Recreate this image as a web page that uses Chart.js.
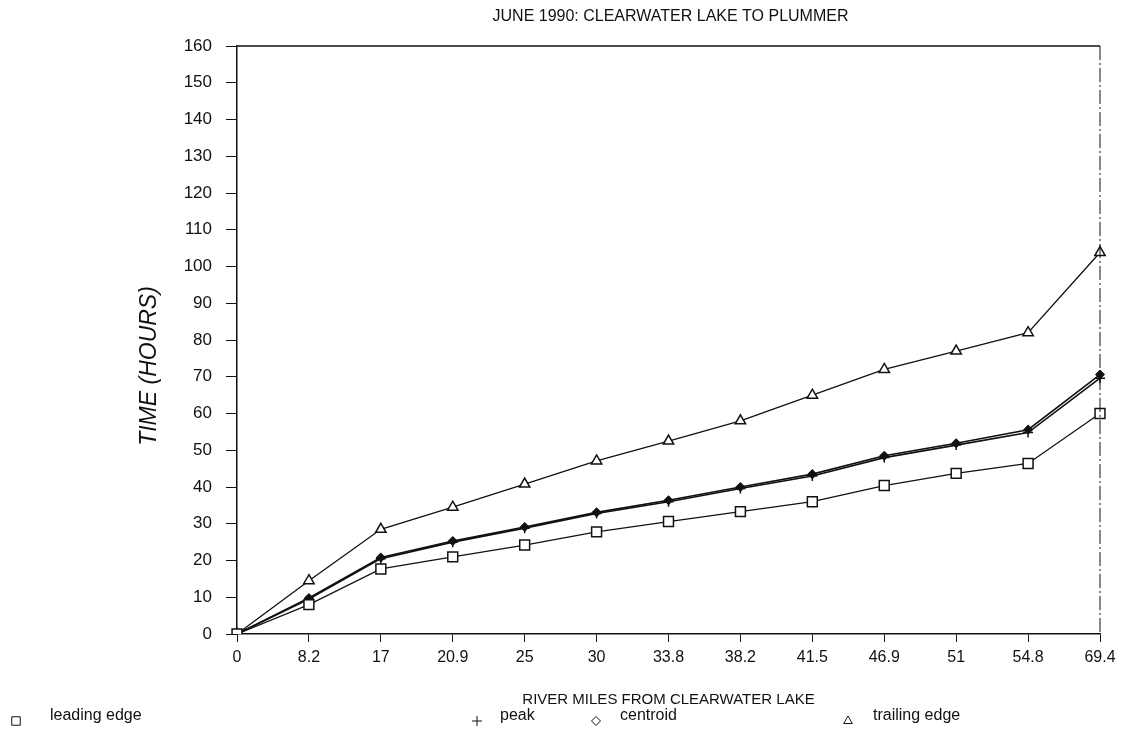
<!DOCTYPE html>
<html>
<head>
<meta charset="utf-8">
<title>June 1990: Clearwater Lake to Plummer</title>
<script src="https://cdn.jsdelivr.net/npm/chart.js@4.4.1/dist/chart.umd.min.js"></script>
<style>
  html, body { margin: 0; padding: 0; background: #fff; }
  #wrap { width: 1126px; height: 734px; }
</style>
</head>
<body>
<div id="wrap"><canvas id="travelChart" width="1126" height="734"></canvas></div>
<script>
  // river miles below the dam (plotted as evenly spaced stations)
  const riverMiles = ['0', '8.2', '17', '20.9', '25', '30', '33.8', '38.2', '41.5', '46.9', '51', '54.8', '69.4']

  // travel time of the dye cloud, hours
  const leadingEdge = [0, 8, 17.7, 21, 24.2, 27.8, 30.6, 33.3, 36, 40.4, 43.7, 46.4, 60]
  const peak = [0, 9.5, 20.5, 25, 28.8, 32.8, 36, 39.6, 43, 48, 51.4, 54.8, 69.6]
  const centroid = [0, 9.8, 20.8, 25.3, 29.1, 33.1, 36.4, 40, 43.5, 48.5, 51.9, 55.6, 70.6]
  const trailingEdge = [0, 14.5, 28.5, 34.5, 40.8, 47.1, 52.5, 58, 65, 72, 77, 82, 103.8]

  const hourTicks = [0, 10, 20, 30, 40, 50, 60, 70, 80, 90, 100, 110, 120, 130, 140, 150, 160]

  const chartTitle = 'JUNE 1990: CLEARWATER LAKE TO PLUMMER'
  const yTitle = 'TIME (HOURS)'

  const ink = '#111'
  const fontFamily = '"Liberation Sans", Arial, Helvetica, sans-serif'

  // legend row along the bottom, same markers as the series
  const legendRow = [
    { x: 16, textX: 50, text: 'leading edge', style: 'rect', radius: 6 },
    { x: 477, textX: 500, text: 'peak', style: 'cross', radius: 5 },
    { x: 596, textX: 620, text: 'centroid', style: 'rectRot', radius: 4.5 },
    { x: 848, textX: 873, text: 'trailing edge', style: 'triangle', radius: 5 }
  ]

  const frameAndLegend = {
    id: 'frameAndLegend',
    beforeDraw(chart) {
      const c = chart.ctx
      c.save()
      c.fillStyle = '#fff'
      c.fillRect(0, 0, chart.width, chart.height)
      c.restore()
    },
    afterDraw(chart) {
      const c = chart.ctx
      const a = chart.chartArea
      c.save()
      // top and right edges of the plot box
      c.strokeStyle = ink
      c.lineWidth = 1.5
      c.beginPath()
      c.moveTo(a.left, a.top)
      c.lineTo(a.right, a.top)
      c.stroke()
      c.lineWidth = 1
      c.setLineDash([14, 3, 2, 3])
      c.beginPath()
      c.moveTo(a.right, a.top)
      c.lineTo(a.right, a.bottom)
      c.stroke()
      c.setLineDash([])

      // chart title, centred over the plot box
      c.fillStyle = ink
      c.textAlign = 'center'
      c.textBaseline = 'middle'
      c.font = '16px ' + fontFamily
      c.fillText(chartTitle, (a.left + a.right) / 2 + 2, 17)

      // vertical axis title
      c.save()
      c.translate(150, 366)
      c.rotate(-Math.PI / 2)
      c.font = 'italic 23px ' + fontFamily
      c.fillText(yTitle, 0, 0)
      c.restore()

      // legend
      c.textAlign = 'left'
      c.font = '16px ' + fontFamily
      legendRow.forEach(item => {
        c.fillStyle = '#fff'
        c.strokeStyle = ink
        Chart.helpers.drawPoint(c, {
          pointStyle: item.style,
          radius: item.radius,
          borderWidth: 1.3,
          rotation: 0
        }, item.x, 721)
        c.fillStyle = ink
        c.fillText(item.text, item.textX, 716)
      })
      c.restore()
    }
  }

  function series(label, data, style, radius, fill, width) {
    return {
      label: label,
      data: data,
      borderColor: ink,
      borderWidth: width,
      backgroundColor: fill,
      pointStyle: style,
      pointRadius: radius,
      pointBorderColor: ink,
      pointBorderWidth: 1.5,
      pointBackgroundColor: fill,
      tension: 0
    }
  }

  const ctx = document.getElementById('travelChart')
  // eslint-disable-next-line no-unused-vars
  const travelChart = new Chart(ctx, {
    type: 'line',
    data: {
      labels: riverMiles,
      datasets: [
        series('leading edge', leadingEdge, 'rect', 7, '#fff', 1.3),
        series('peak', peak, 'cross', 5, ink, 1.6),
        series('centroid', centroid, 'rectRot', 4, ink, 1.6),
        series('trailing edge', trailingEdge, 'triangle', 6, '#fff', 1.3)
      ]
    },
    options: {
      responsive: false,
      animation: false,
      layout: {
        padding: { left: 142, right: 26, top: 46, bottom: 24 }
      },
      plugins: {
        legend: { display: false },
        tooltip: { enabled: false },
        title: { display: false }
      },
      scales: {
        x: {
          type: 'category',
          offset: false,
          border: { display: true, color: ink, width: 1.5 },
          grid: {
            display: true,
            drawOnChartArea: false,
            drawTicks: true,
            tickLength: 8,
            color: ink,
            lineWidth: 1
          },
          ticks: {
            color: ink,
            padding: 6,
            maxRotation: 0,
            autoSkip: false,
            font: { family: fontFamily, size: 16 }
          },
          title: {
            display: true,
            text: 'RIVER MILES FROM CLEARWATER LAKE',
            color: ink,
            font: { family: fontFamily, size: 15 },
            padding: { top: 4, bottom: 1 }
          },
          afterFit(scale) {
            scale.height = 76
          }
        },
        y: {
          min: 0,
          max: 160,
          border: { display: true, color: ink, width: 1.5 },
          grid: {
            display: true,
            drawOnChartArea: false,
            drawTicks: true,
            tickLength: 11,
            color: ink,
            lineWidth: 1
          },
          afterBuildTicks(scale) {
            scale.ticks = hourTicks.map(v => ({ value: v }))
          },
          ticks: {
            color: ink,
            padding: 14,
            font: { family: fontFamily, size: 17 }
          },
          afterFit(scale) {
            scale.width = 95
          }
        }
      }
    },
    plugins: [frameAndLegend]
  })
</script>
</body>
</html>
